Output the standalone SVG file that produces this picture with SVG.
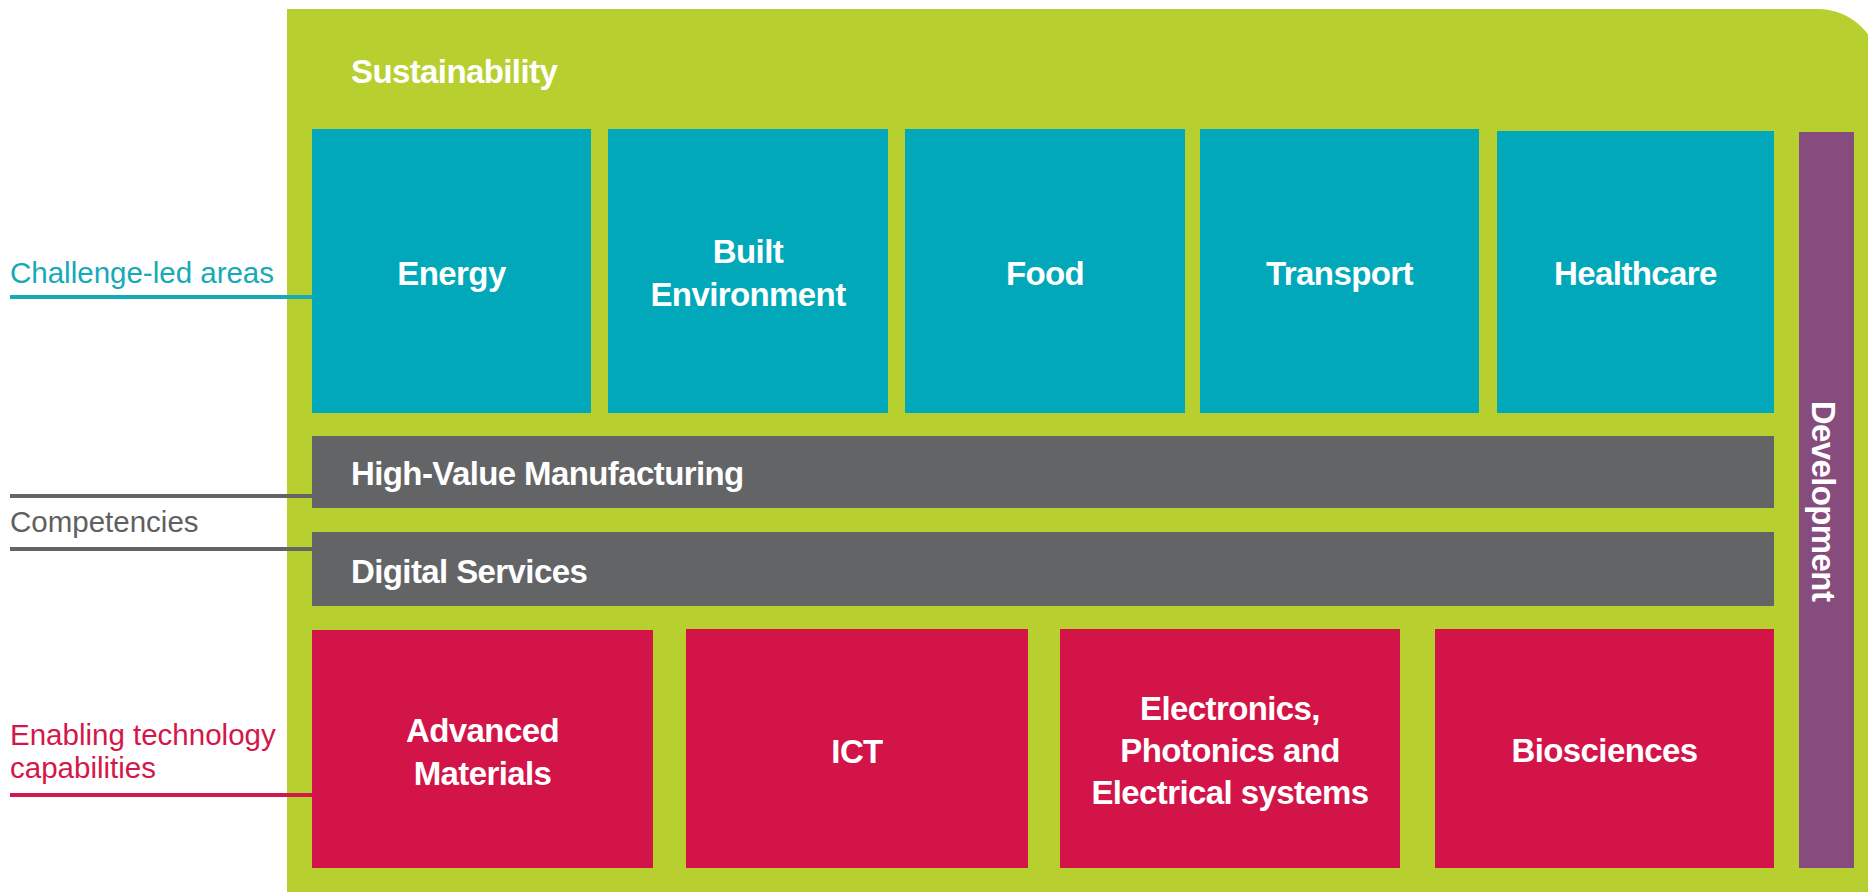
<svg xmlns="http://www.w3.org/2000/svg" width="1868" height="892" viewBox="0 0 1868 892">
<style>
.bg{fill:#B7CF2F}
.teal{fill:#00A8B9}
.grey{fill:#636466}
.red{fill:#D21449}
.purple{fill:#874C7E}
.wt{font-family:"Liberation Sans",Arial,sans-serif;font-weight:bold;font-size:33px;fill:#FFFFFF;letter-spacing:-0.6px}
.c{text-anchor:middle}
.lbl{font-family:"Liberation Sans",Arial,sans-serif;font-size:29.5px}
.ln{stroke-width:4;fill:none}
</style>
<rect width="1868" height="892" fill="#FFFFFF"/>
<g id="sustainability">
<path class="bg" d="M287,892 L287,9 L1818,9 A62,62 0 0 1 1880,71 L1880,892 Z"/>
<text class="wt" x="351" y="83">Sustainability</text>
</g>
<g id="connectors">
<line class="ln" x1="10" y1="297" x2="312" y2="297" stroke="#16A9B8"/>
<line class="ln" x1="10" y1="496" x2="312" y2="496" stroke="#636466"/>
<line class="ln" x1="10" y1="549" x2="312" y2="549" stroke="#636466"/>
<line class="ln" x1="10" y1="795" x2="312" y2="795" stroke="#D4174B"/>
</g>
<g id="label-challenge">
<text class="lbl" x="10" y="283" fill="#16A9B8">Challenge-led areas</text>
</g>
<g id="label-competencies">
<text class="lbl" x="10" y="532" fill="#5F6062">Competencies</text>
</g>
<g id="label-enabling">
<text class="lbl" x="10" y="745" fill="#D4174B">Enabling technology</text>
<text class="lbl" x="10" y="778" fill="#D4174B">capabilities</text>
</g>
<g id="energy">
<rect class="teal" x="312" y="129" width="279" height="284"/>
<text class="wt c" x="451.5" y="285">Energy</text>
</g>
<g id="built-environment">
<rect class="teal" x="608" y="129" width="280" height="284"/>
<text class="wt c" x="748" y="263">Built</text>
<text class="wt c" x="748" y="306">Environment</text>
</g>
<g id="food">
<rect class="teal" x="905" y="129" width="280" height="284"/>
<text class="wt c" x="1045" y="285">Food</text>
</g>
<g id="transport">
<rect class="teal" x="1200" y="129" width="279" height="284"/>
<text class="wt c" x="1339.5" y="285">Transport</text>
</g>
<g id="healthcare">
<rect class="teal" x="1497" y="131" width="277" height="282"/>
<text class="wt c" x="1635.5" y="285">Healthcare</text>
</g>
<g id="high-value-manufacturing">
<rect class="grey" x="312" y="436" width="1462" height="72"/>
<text class="wt" x="351" y="485">High-Value Manufacturing</text>
</g>
<g id="digital-services">
<rect class="grey" x="312" y="532" width="1462" height="74"/>
<text class="wt" x="351" y="583">Digital Services</text>
</g>
<g id="advanced-materials">
<rect class="red" x="312" y="630" width="341" height="238"/>
<text class="wt c" x="482.5" y="742">Advanced</text>
<text class="wt c" x="482.5" y="785">Materials</text>
</g>
<g id="ict">
<rect class="red" x="686" y="629" width="342" height="239"/>
<text class="wt c" x="857" y="763">ICT</text>
</g>
<g id="electronics">
<rect class="red" x="1060" y="629" width="340" height="239"/>
<text class="wt c" x="1230" y="720">Electronics,</text>
<text class="wt c" x="1230" y="762">Photonics and</text>
<text class="wt c" x="1230" y="804">Electrical systems</text>
</g>
<g id="biosciences">
<rect class="red" x="1435" y="629" width="339" height="239"/>
<text class="wt c" x="1604.5" y="762">Biosciences</text>
</g>
<g id="development">
<rect class="purple" x="1799" y="132" width="55" height="736"/>
<text class="wt c" transform="translate(1812,501) rotate(90)">Development</text>
</g>
</svg>
